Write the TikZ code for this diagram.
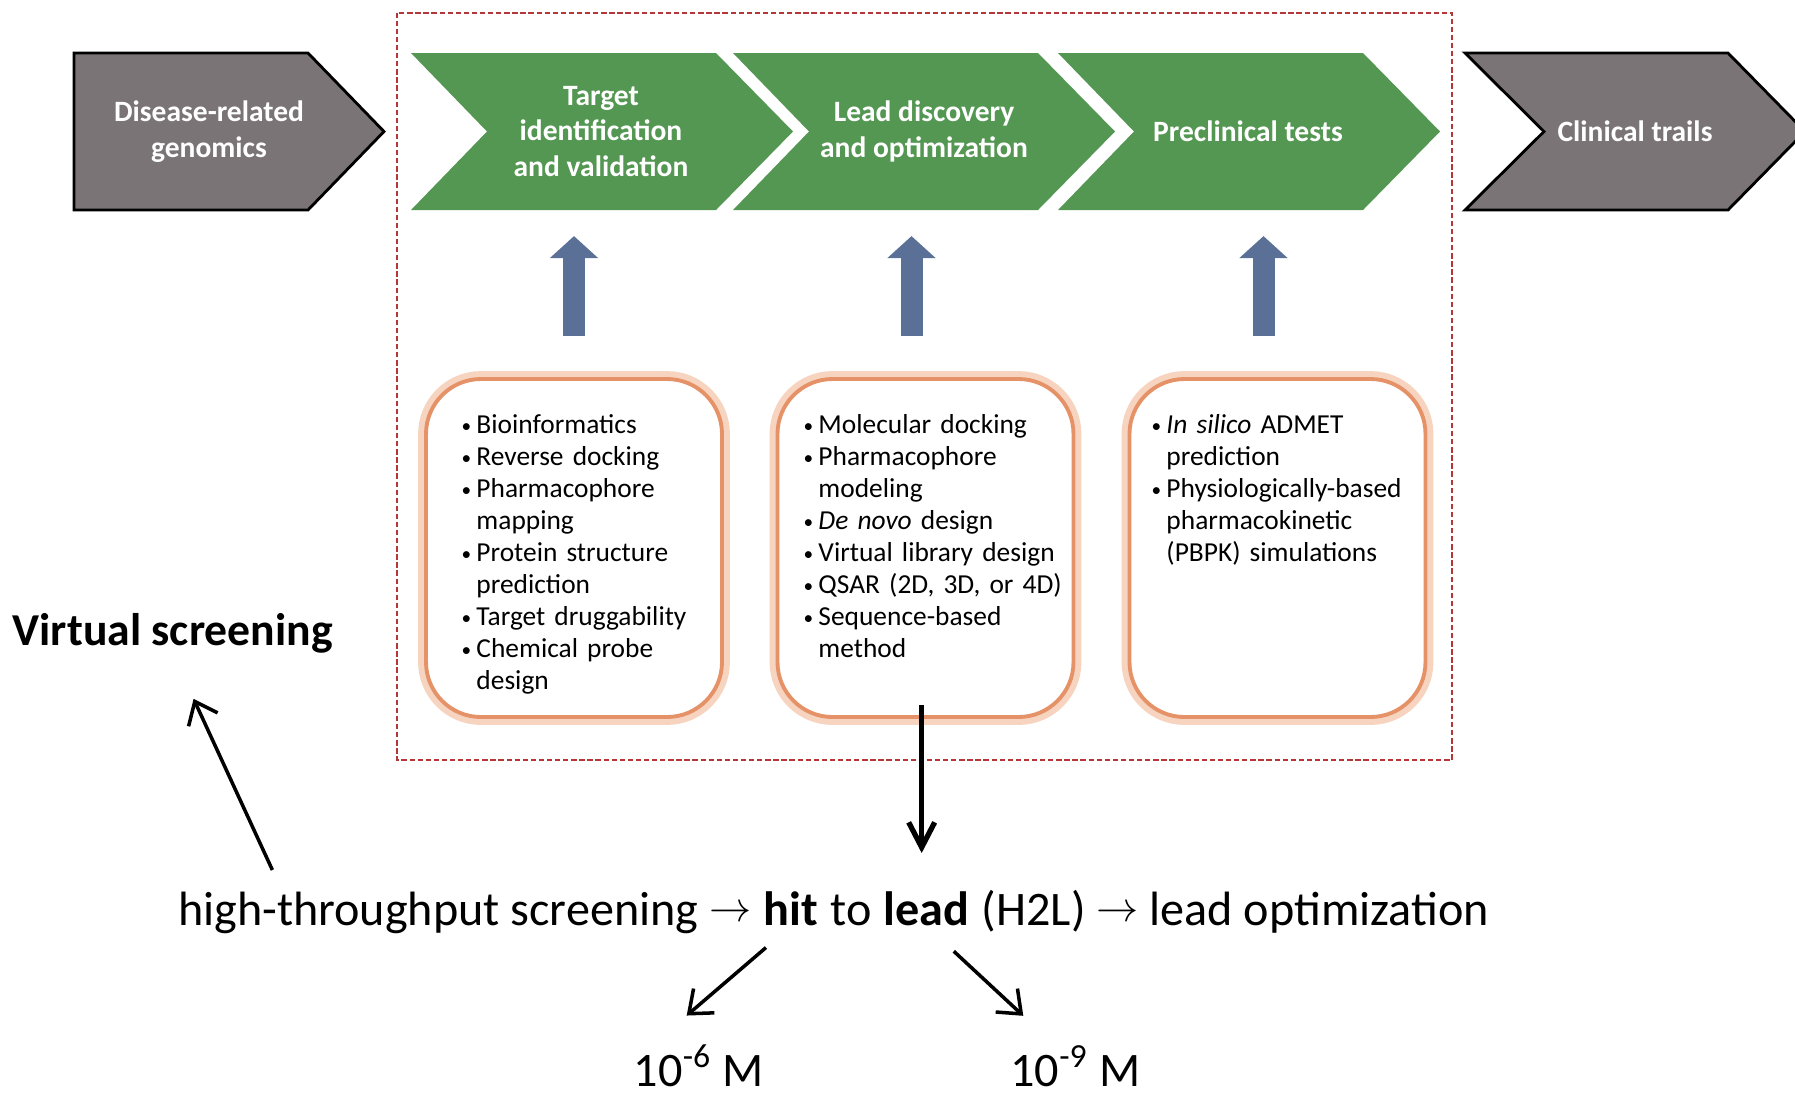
\documentclass[tikz,border=0pt]{standalone}
\usepackage{fontspec}
\setmainfont{Carlito}
\usetikzlibrary{arrows.meta, positioning, calc}

\definecolor{stagegreen}{RGB}{84,151,82}
\definecolor{endgrey}{RGB}{122,116,118}
\definecolor{arrowblue}{RGB}{91,112,150}
\definecolor{framered}{RGB}{180,55,55}
\definecolor{boxorange}{RGB}{230,146,104}
\definecolor{boxglow}{RGB}{247,212,192}

\newcommand{\bitem}[1]{\noindent\hangindent=4.2pt\hangafter=1\makebox[4.2pt][l]{\raisebox{0.4pt}{\fontsize{5.5}{6}\selectfont\textbullet}}#1\par}
\newcommand{\flowto}{{\fontsize{12}{12}\selectfont\raisebox{1pt}{$\rightarrow$}}}

\begin{document}
\begin{tikzpicture}[
    stage/.style={fill=stagegreen},
    endstage/.style={fill=endgrey, draw=black, line width=0.8pt},
    stagetext/.style={text=white, font=\fontsize{8.4}{10.1}\selectfont\bfseries, align=center},
    toolbox/.style={rectangle, rounded corners=0.55cm, minimum width=2.96cm, minimum height=3.38cm, draw=boxorange, line width=1.1pt, fill=white, preaction={draw=boxglow, line width=4.5pt}},
    toollist/.style={anchor=north west, inner sep=0pt, text width=3cm, font=\fontsize{7.8}{9.1}\selectfont},
    uparrow/.style={draw=arrowblue, line width=0.22cm, -{Triangle[length=0.22cm, width=0.47cm]}},
    pointer/.style={line width=1pt, -{Straight Barb[length=2mm, width=3.2mm]}},
    flow/.style={font=\fontsize{13.7}{16}\selectfont, anchor=base west, inner xsep=1.55pt, inner ysep=0pt},
    conc/.style={font=\fontsize{13.7}{16}\selectfont, anchor=base, inner sep=0pt}
]
    \path[use as bounding box, fill=white] (0,0) rectangle (17.95,-10.93);

    \draw[framered, line width=0.6pt, dash pattern=on 1.5pt off 0.8pt] (3.97,-0.127) rectangle (14.52,-7.60);

    \filldraw[endstage] (0.74,-0.53) -- (3.08,-0.53) -- (3.84,-1.315) -- (3.08,-2.10) -- (0.74,-2.10) -- cycle;
    \foreach \x in {4.11,7.33,10.58} {
        \fill[stage] (\x,-0.53) -- ++(3.05,0) -- ++(0.77,-0.785) -- ++(-0.77,-0.785) -- ++(-3.05,0) -- ++(0.76,0.785) -- cycle;
    }
    \filldraw[endstage] (14.65,-0.53) -- (17.28,-0.53) -- (18.05,-1.315) -- (17.28,-2.10) -- (14.65,-2.10) -- (15.44,-1.315) -- cycle;

    \node[stagetext] (dis) at (2.09,-1.315) {Disease-related\\genomics};
    \node[stagetext] (tiv) at (6.01,-1.315) {Target\\identification\\and validation};
    \node[stagetext] (ldo) at (9.24,-1.315) {Lead discovery\\and optimization};
    \node[stagetext] (pct) at (12.48,-1.315) {Preclinical tests};
    \node[stagetext] (clin) at (16.35,-1.315) {Clinical trails};

    \node[toolbox] (box1) at (5.74,-5.48) {};
    \node[toolbox] (box2) at (9.255,-5.48) {};
    \node[toolbox] (box3) at (12.775,-5.48) {};

    \node[toollist] (list1) at (4.61,-4.14) {\bitem{Bioinformatics}\bitem{Reverse docking}\bitem{Pharmacophore\newline mapping}\bitem{Protein structure\newline prediction}\bitem{Target druggability}\bitem{Chemical probe\newline design}};
    \node[toollist] (list2) at (8.03,-4.14) {\bitem{Molecular docking}\bitem{Pharmacophore\newline modeling}\bitem{\textit{De novo} design}\bitem{Virtual library design}\bitem{QSAR (2D, 3D, or 4D)}\bitem{Sequence-based\newline method}};
    \node[toollist] (list3) at (11.51,-4.14) {\bitem{\textit{In silico} ADMET\newline prediction}\bitem{Physiologically-based\newline pharmacokinetic\newline (PBPK) simulations}};

    \draw[uparrow] ([yshift=0.41cm]box1.north) -- ++(0,1.0);
    \draw[uparrow] ([xshift=-0.14cm,yshift=0.41cm]box2.north) -- ++(0,1.0);
    \draw[uparrow] ([xshift=-0.14cm,yshift=0.41cm]box3.north) -- ++(0,1.0);

    \node[font=\fontsize{13}{15}\selectfont\bfseries, anchor=base west, inner sep=0pt] (vs) at (0.12,-6.45) {Virtual screening};

    \node[flow] (hts) at (1.72,-9.25) {high-throughput screening \flowto};
    \node[flow] (hit) at (hts.base east) {\textbf{hit}};
    \node[flow] (to) at (hit.base east) {to};
    \node[flow] (lead) at (to.base east) {\textbf{lead}};
    \node[flow] (opt) at (lead.base east) {(H2L) \flowto\ lead optimization};

    \node[conc] (m6) at (6.99,-10.86) {10\textsuperscript{-6} M};
    \node[conc] (m9) at (10.755,-10.86) {10\textsuperscript{-9} M};

    \draw[pointer, shorten <=0.23cm, shorten >=0.5cm] ([xshift=1.1cm]hts.north west) -- (vs.south);
    \draw[pointer, line width=1.5pt, -{Straight Barb[length=2.5mm, width=2.6mm]}] ($(box2.south -| lead.north)+(-0.05,0.14)$) -- ([xshift=-0.05cm,yshift=0.375cm]lead.north);
    \draw[pointer, shorten <=0.33cm, shorten >=0.44cm] (hit.south) -- ([xshift=0.2cm]m6.north west);
    \draw[pointer, shorten <=0.37cm, shorten >=0.43cm] (lead.south) -- ([xshift=0.45cm]m9.north west);
\end{tikzpicture}
\end{document}
